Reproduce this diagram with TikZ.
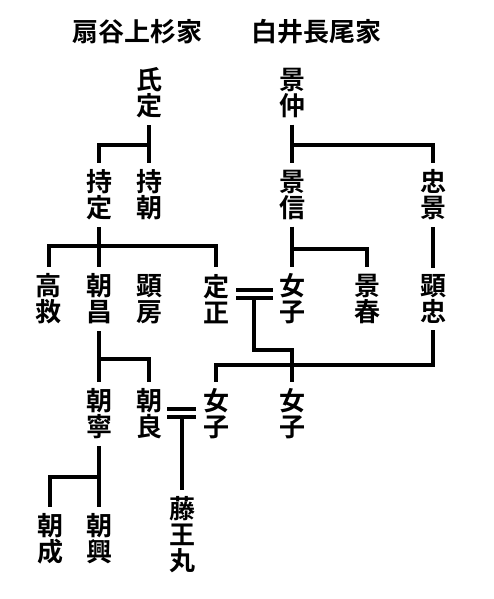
\documentclass[tikz,border=0pt]{standalone}
\usepackage{fontspec}
\newfontfamily\cjk{Noto Sans CJK JP}[BoldFont={* Bold}]
\usetikzlibrary{calc}
\begin{document}
\begin{tikzpicture}[x=0.75pt,y=-0.75pt,
  person/.style={font=\cjk\bfseries\fontsize{19.5}{19.5}\selectfont, align=center, inner xsep=0pt, inner ysep=5pt},
  titletext/.style={font=\cjk\bfseries\fontsize{19.5}{19.5}\selectfont, inner sep=0pt},
  link/.style={line width=2.4pt}]
\useasboundingbox (0,0) rectangle (493,599);
% titles
\node[titletext] (t1) at (137,32) {扇谷上杉家};
\node[titletext] (t2) at (316,32) {白井長尾家};
% people
\node[person] (ujisada) at (149,93) {氏\\定};
\node[person] (kagenaka) at (292,93) {景\\仲};
\node[person] (mochisada) at (99,195) {持\\定};
\node[person] (mochitomo) at (149,195) {持\\朝};
\node[person] (kagenobu) at (292,195) {景\\信};
\node[person] (tadakage) at (433,195) {忠\\景};
\node[person] (takahira) at (49,299) {高\\救};
\node[person] (tomomasa) at (99,299) {朝\\昌};
\node[person] (akifusa) at (149,299) {顕\\房};
\node[person] (sadamasa) at (216,299) {定\\正};
\node[person] (joshi1) at (292,299) {女\\子};
\node[person] (kageharu) at (367,299) {景\\春};
\node[person] (akitada) at (433,299) {顕\\忠};
\node[person] (tomoyasu) at (99,414) {朝\\寧};
\node[person] (tomoyoshi) at (149,414) {朝\\良};
\node[person] (joshi2) at (216,414) {女\\子};
\node[person] (joshi3) at (292,414) {女\\子};
\node[person] (tomoshige) at (50,539) {朝\\成};
\node[person] (tomooki) at (99,539) {朝\\興};
\node[person] (tomaru) at (182,535) {藤\\王\\丸};
% junctions
\coordinate (j1) at (149,145);
\coordinate (j2) at (292,145);
\coordinate (j3) at (99,246);
\coordinate (j4) at (292,249);
\coordinate (m1a) at (236,290);
\coordinate (m1b) at (273,290);
\coordinate (m1c) at (236,298);
\coordinate (m1d) at (273,298);
\coordinate (m1) at (254,298);
\coordinate (j5) at (292,350);
\coordinate (j6) at (216,365);
\coordinate (j7) at (99,359);
\coordinate (m2a) at (167,409);
\coordinate (m2b) at (196,409);
\coordinate (m2c) at (167,417);
\coordinate (m2d) at (196,417);
\coordinate (m2) at (182,417);
\coordinate (j8) at (99,477);
% connectors
\draw[link] (ujisada.south) -- (mochitomo.north);
\draw[link] (mochisada.north) |- (j1);
\draw[link] (kagenaka.south) -- (kagenobu.north);
\draw[link] (j2) -| (tadakage.north);
\draw[link] (mochisada.south) -- (tomomasa.north);
\draw[link] (takahira.north) |- (j3) -| (sadamasa.north);
\draw[link] (kagenobu.south) -- (joshi1.north);
\draw[link] (j4) -| (kageharu.north);
\draw[link] (tadakage.south) -- (akitada.north);
\draw[link] (m1a) -- (m1b);
\draw[link] (m1c) -- (m1d);
\draw[link] (m1) |- (j5) -- (joshi3.north);
\draw[link] (akitada.south) |- (j6) -- (joshi2.north);
\draw[link] (tomomasa.south) -- (tomoyasu.north);
\draw[link] (j7) -| (tomoyoshi.north);
\draw[link] (m2a) -- (m2b);
\draw[link] (m2c) -- (m2d);
\draw[link] (m2) -- (tomaru.north);
\draw[link] (tomoyasu.south) -- (tomooki.north);
\draw[link] (j8) -| (tomoshige.north);
\end{tikzpicture}
\end{document}
